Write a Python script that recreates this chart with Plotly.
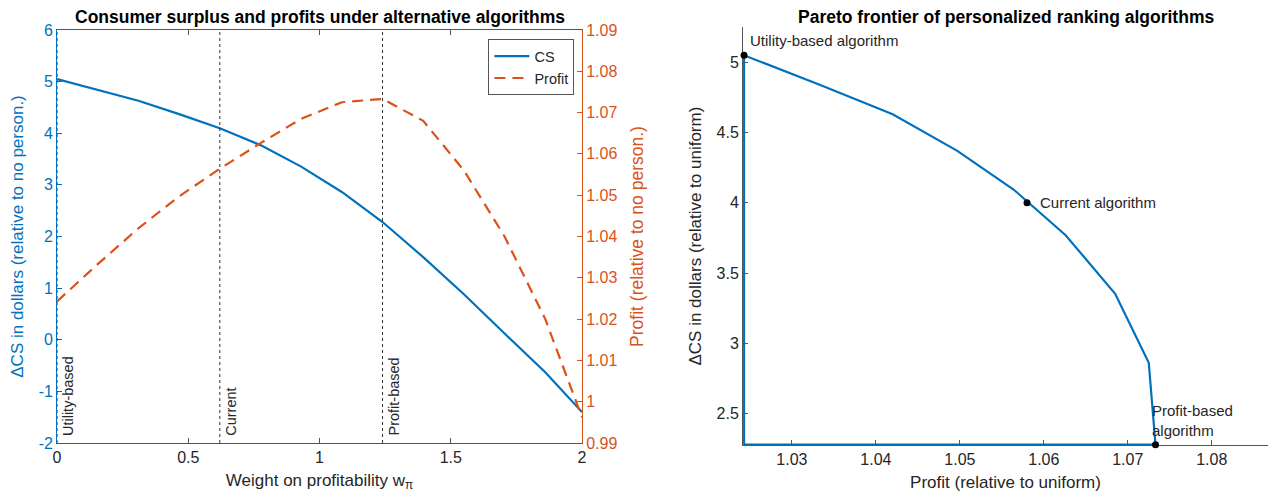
import plotly.graph_objects as go

# ---------------- data ----------------
w_grid = [0, 0.155, 0.31, 0.465, 0.62, 0.775, 0.93, 1.085, 1.24, 1.395, 1.55, 1.705, 1.86, 2.0]
cs_values = [5.05, 4.84, 4.63, 4.37, 4.095, 3.77, 3.353, 2.862, 2.28, 1.6, 0.88, 0.12, -0.63, -1.4]
profit_values = [1.0243, 1.0333, 1.042, 1.0497, 1.0564, 1.0626, 1.0685, 1.0725, 1.0733,
                 1.068, 1.056, 1.040, 1.020, 0.9962]

algo_names = ["Utility-based", "Current", "Profit-based"]
algo_w = [0, 0.62, 1.24]

pareto_labels = ["Utility-based algorithm", "Current algorithm", "Profit-based<br>algorithm"]
pareto_profit = [1.0243, 1.058, 1.0733]
pareto_cs = [5.05, 4.0, 2.28]
n_frontier = 9  # grid points from utility-based to profit-based

left_yticks = [-2, -1, 0, 1, 2, 3, 4, 5, 6]
left_yticktext = ["-2", "-1", "0", "1", "2", "3", "4", "5", "6"]
right_yticks = [0.99, 1.0, 1.01, 1.02, 1.03, 1.04, 1.05, 1.06, 1.07, 1.08, 1.09]
right_yticktext = ["0.99", "1", "1.01", "1.02", "1.03", "1.04", "1.05", "1.06",
                   "1.07", "1.08", "1.09"]
left_xticks = [0, 0.5, 1, 1.5, 2]
left_xticktext = ["0", "0.5", "1", "1.5", "2"]
pareto_xticks = [1.03, 1.04, 1.05, 1.06, 1.07, 1.08]
pareto_xticktext = ["1.03", "1.04", "1.05", "1.06", "1.07", "1.08"]
pareto_yticks = [2.5, 3, 3.5, 4, 4.5, 5]
pareto_yticktext = ["2.5", "3", "3.5", "4", "4.5", "5"]

BLUE = "#0072BD"
ORANGE = "#D95319"
DARK = "#262626"
AXC = "#555555"
FONT = "Liberation Sans, Arial, sans-serif"

fig = go.Figure()

# ---------------- left panel ----------------
fig.add_trace(go.Scatter(x=w_grid, y=cs_values, mode="lines", name="CS",
                         line=dict(color=BLUE, width=2.2), xaxis="x", yaxis="y"))
fig.add_trace(go.Scatter(x=w_grid, y=profit_values, mode="lines", name="Profit",
                         line=dict(color=ORANGE, width=2.2, dash="11px,7px"),
                         xaxis="x", yaxis="y2"))

for name, w in zip(algo_names, algo_w):
    fig.add_shape(type="line", xref="x", yref="y domain", x0=w, x1=w, y0=0, y1=1,
                  line=dict(color="#333333", width=1, dash="dot"))
    fig.add_annotation(x=w, y=-2, xref="x", yref="y", text=name, textangle=-90,
                       showarrow=False, xanchor="left", yanchor="bottom",
                       xshift=1, yshift=5, font=dict(size=14.5, color=DARK, family=FONT))

# ---------------- right panel ----------------
fr_x = [profit_values[0]] + profit_values[:n_frontier] + [profit_values[0]]
fr_y = [cs_values[n_frontier - 1]] + cs_values[:n_frontier] + [cs_values[n_frontier - 1]]
fig.add_trace(go.Scatter(x=fr_x, y=fr_y, mode="lines", showlegend=False,
                         line=dict(color=BLUE, width=2.2), xaxis="x2", yaxis="y3"))
fig.add_trace(go.Scatter(x=pareto_profit, y=pareto_cs, mode="markers", showlegend=False,
                         marker=dict(color="black", size=7), xaxis="x2", yaxis="y3",
                         cliponaxis=False))

ann_cfg = [
    dict(xanchor="left", yanchor="bottom", xshift=4, yshift=4),
    dict(xanchor="left", yanchor="middle", xshift=11, yshift=0),
    dict(xanchor="left", yanchor="bottom", xshift=-5, yshift=4),
]
for lab, px, py, cfg in zip(pareto_labels, pareto_profit, pareto_cs, ann_cfg):
    fig.add_annotation(x=px, y=py, xref="x2", yref="y3", text=lab, showarrow=False,
                       align="left", font=dict(size=15, color=DARK, family=FONT), **cfg)

# titles
fig.add_annotation(x=0.252, y=0.966, xref="paper", yref="paper", showarrow=False,
                   xanchor="center", yanchor="middle",
                   text="<b>Consumer surplus and profits under alternative algorithms</b>",
                   font=dict(size=17.5, color="black", family=FONT))
fig.add_annotation(x=0.793, y=0.966, xref="paper", yref="paper", showarrow=False,
                   xanchor="center", yanchor="middle",
                   text="<b>Pareto frontier of personalized ranking algorithms</b>",
                   font=dict(size=17.5, color="black", family=FONT))

tickfont = dict(size=16, family=FONT)
fig.update_layout(
    width=1268, height=503,
    margin=dict(l=0, r=0, t=0, b=0),
    paper_bgcolor="white", plot_bgcolor="white",
    font=dict(family=FONT, color=DARK),
    showlegend=True,
    legend=dict(x=0.453, y=0.922, xanchor="right", yanchor="top",
                bordercolor=AXC, borderwidth=1, bgcolor="white",
                font=dict(size=14.5, color=DARK, family=FONT),
                tracegroupgap=0, itemwidth=35),
    xaxis=dict(domain=[0.045, 0.459], range=[0, 2], tickvals=left_xticks,
               ticktext=left_xticktext,
               ticks="inside", ticklen=5, tickcolor=AXC, showline=True, linecolor=AXC,
               mirror="ticks", showgrid=False, zeroline=False, automargin=False,
               tickfont=dict(color=DARK, **tickfont),
               title=dict(text="Weight on profitability w<sub>π</sub>", standoff=8,
                          font=dict(size=17, color=DARK, family=FONT)),
               anchor="y"),
    yaxis=dict(domain=[0.1193, 0.9404], range=[-2, 6], tickvals=left_yticks,
               ticktext=left_yticktext,
               ticks="inside", ticklen=5, tickcolor=BLUE, showline=True, linecolor=BLUE,
               showgrid=False, zeroline=False, automargin=False,
               tickfont=dict(color=BLUE, **tickfont),
               title=dict(text="ΔCS in dollars (relative to no person.)", standoff=10,
                          font=dict(size=17, color=BLUE, family=FONT)),
               anchor="x"),
    yaxis2=dict(overlaying="y", side="right", range=[0.99, 1.09], tickvals=right_yticks,
                ticktext=right_yticktext,
                ticks="inside", ticklen=5, tickcolor=ORANGE, showline=True, linecolor=ORANGE,
                showgrid=False, zeroline=False, automargin=False,
                tickfont=dict(color=ORANGE, **tickfont),
                title=dict(text="Profit (relative to no person.)", standoff=14,
                           font=dict(size=17.5, color=ORANGE, family=FONT)),
                anchor="x"),
    xaxis2=dict(domain=[0.586, 1.0], range=[1.02418, 1.0867], tickvals=pareto_xticks,
                ticktext=pareto_xticktext,
                ticks="inside", ticklen=5, tickcolor=AXC, showline=True, linecolor=AXC,
                showgrid=False, zeroline=False, automargin=False, layer="below traces",
                tickfont=dict(color=DARK, **tickfont),
                title=dict(text="Profit (relative to uniform)", standoff=8,
                           font=dict(size=17, color=DARK, family=FONT)),
                anchor="y3"),
    yaxis3=dict(domain=[0.1153, 0.946], range=[2.2775, 5.25], tickvals=pareto_yticks,
                ticktext=pareto_yticktext,
                ticks="inside", ticklen=5, tickcolor=AXC, showline=True, linecolor=AXC,
                showgrid=False, zeroline=False, automargin=False, layer="below traces",
                tickfont=dict(color=DARK, **tickfont),
                title=dict(text="ΔCS in dollars (relative to uniform)", standoff=10,
                           font=dict(size=17, color=DARK, family=FONT)),
                anchor="x2"),
)

fig.write_html("out.html")
